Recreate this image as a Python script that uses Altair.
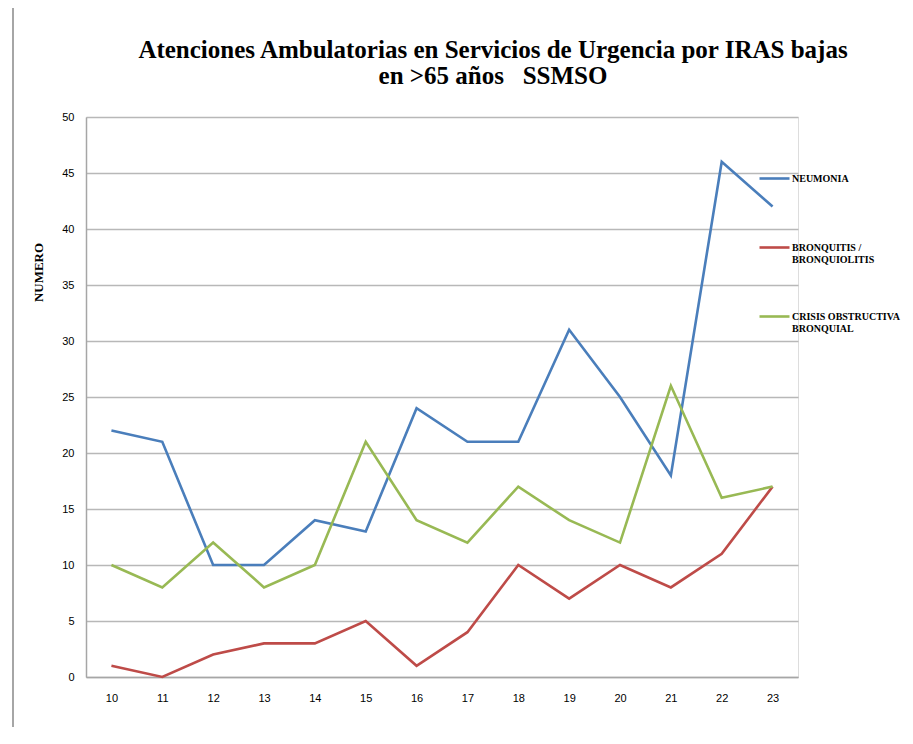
import altair as alt
import pandas as pd

weeks = [str(w) for w in range(10, 24)]
neumonia = [22, 21, 10, 10, 14, 13, 24, 21, 21, 31, 25, 18, 46, 42]
bronquitis = [1, 0, 2, 3, 3, 5, 1, 4, 10, 7, 10, 8, 11, 17]
crisis = [10, 8, 12, 8, 10, 21, 14, 12, 17, 14, 12, 26, 16, 17]
series_names = ["NEUMONIA", "BRONQUITIS / BRONQUIOLITIS", "CRISIS OBSTRUCTIVA BRONQUIAL"]
colors = ["#4a7ebb", "#be4b48", "#98b954"]
y_ticks = [0, 5, 10, 15, 20, 25, 30, 35, 40, 45, 50]

rows = []
for name, vals in zip(series_names, [neumonia, bronquitis, crisis]):
    for w, v in zip(weeks, vals):
        rows.append({"semana": w, "serie": name, "valor": v})
df = pd.DataFrame(rows)

serif = "Liberation Serif"
sans = "Liberation Sans"

label_expr = (
    "datum.label == 'BRONQUITIS / BRONQUIOLITIS' ? ['BRONQUITIS /', 'BRONQUIOLITIS'] : "
    "datum.label == 'CRISIS OBSTRUCTIVA BRONQUIAL' ? ['CRISIS OBSTRUCTIVA', 'BRONQUIAL'] : [datum.label, ' ']"
)

lines = alt.Chart(df).mark_line(strokeWidth=2.6).encode(
    x=alt.X(
        "semana:N",
        sort=weeks,
        scale=alt.Scale(padding=0.5),
        axis=alt.Axis(
            title=None, labelAngle=0, ticks=False, labelPadding=15,
            labelFont=sans, labelFontSize=11, labelColor="#000000",
            domainColor="#a6a6a6", domainWidth=1.5, grid=False,
        ),
    ),
    y=alt.Y(
        "valor:Q",
        scale=alt.Scale(domain=[0, 50], nice=False),
        axis=alt.Axis(
            title="NUMERO", values=y_ticks, ticks=False, labelPadding=12,
            labelFont=sans, labelFontSize=11, labelColor="#000000",
            domainColor="#a6a6a6", domainWidth=1.5,
            grid=True, gridColor="#b8b8b8", gridWidth=1.3,
            titleFont=serif, titleFontSize=13, titleFontWeight="bold",
            titleColor="#000000", titleX=-48, titleY=155, titleAngle=270,
            titleAlign="center", titleBaseline="middle",
        ),
    ),
    color=alt.Color(
        "serie:N",
        sort=series_names,
        scale=alt.Scale(domain=series_names, range=colors),
        legend=alt.Legend(
            title=None, orient="none", legendX=672, legendY=45,
            symbolType="stroke", symbolSize=900, symbolStrokeWidth=2.6,
            labelFont=serif, labelFontSize=10, labelFontWeight="bold",
            labelColor="#000000", labelExpr=label_expr, labelOffset=1,
            labelLimit=200, rowPadding=35, labelBaseline="middle",
        ),
    ),
)

frame = alt.Chart(df).mark_rule(color="#a6a6a6", strokeWidth=1.5).encode(
    x=alt.value(-73), y=alt.value(-109), y2=alt.value(700)
)

chart = alt.layer(frame, lines).properties(
    width=712,
    height=560,
    autosize=alt.AutoSizeParams(type="none"),
    padding={"left": 78, "top": 109, "right": 105, "bottom": 50},
    title=alt.Title(
        ["Atenciones Ambulatorias en Servicios de Urgencia por IRAS bajas",
         "en >65 años\u00a0\u00a0\u00a0SSMSO"],
        font=serif, fontSize=25, fontWeight="bold", color="#000000",
        anchor="middle", frame="group", dx=51, offset=0, dy=82, lineHeight=26,
    ),
).configure_view(stroke=None).configure(background="white")

chart.save("out.html", embed_options={"renderer": "svg", "actions": False})
